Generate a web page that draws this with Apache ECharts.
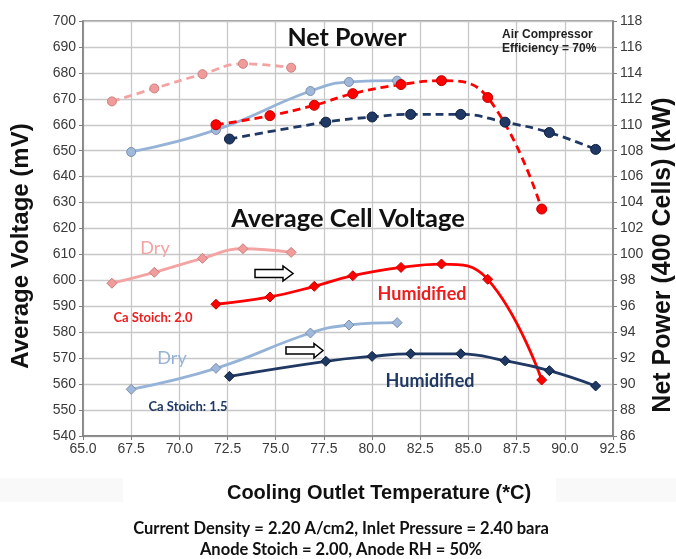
<!DOCTYPE html>
<html>
<head>
<meta charset="utf-8">
<script src="https://cdn.jsdelivr.net/npm/echarts@6/dist/echarts.min.js"></script>
<style>html,body{margin:0;padding:0;background:#fff;}#c{width:676px;height:559px;}</style>
</head>
<body>
<div id="c"></div>
<script>
// Temperatures (°C)
const xDry20 = [66.5, 68.7, 71.2, 73.3, 75.8];
const xHum20 = [71.9, 74.7, 77.0, 79.0, 81.5, 83.6, 86.0, 88.8];
const xDry15 = [67.5, 71.9, 76.8, 78.8, 81.3];
const xHum15 = [72.6, 77.6, 80.0, 82.0, 84.6, 86.9, 89.2, 91.6];
// Net power (kW, right axis)
const powerDry20 = [111.8, 112.8, 113.9, 114.7, 114.4];
const powerHum20 = [110.0, 110.7, 111.5, 112.4, 113.1, 113.4, 112.1, 103.5];
const powerDry15 = [107.9, 109.6, 112.6, 113.3, 113.4];
const powerHum15 = [108.9, 110.2, 110.6, 110.8, 110.8, 110.2, 109.4, 108.1];
// Average cell voltage (mV, left axis)
const voltDry20 = [598.9, 603.1, 608.5, 612.2, 610.8];
const voltHum20 = [590.8, 593.6, 597.7, 601.8, 605.0, 606.3, 600.4, 561.6];
const voltDry15 = [558.0, 566.1, 579.7, 582.8, 583.7];
const voltHum15 = [563.0, 568.8, 570.7, 571.7, 571.7, 569.0, 565.2, 559.3];

const zip = (xs, ys) => xs.map((x, i) => [x, ys[i]]);

const C = {
  pink: '#f4a3a3', pinkMark: '#f19b9b', pinkBorder: '#c98080',
  red: '#ff0000', redBorder: '#c00000',
  lblue: '#95b3d7', lblueMark: '#9fb9dc', lblueBorder: '#7f8fa8',
  navy: '#1f3864', navyBorder: '#0f1f40'
};

function series(name, xs, ys, axis, color, dashed, symbol, mfill, mborder, size) {
  return {
    name, type: 'line', yAxisIndex: axis, data: zip(xs, ys),
    smooth: 0.45, symbol, symbolSize: size,
    lineStyle: { color, width: 2.8, type: dashed ? [8, 5] : 'solid' },
    itemStyle: { color: mfill, borderColor: mborder, borderWidth: 1 },
    emphasis: { disabled: true }, z: 3
  };
}

const chart = echarts.init(document.getElementById('c'), null, { renderer: 'canvas' });
const axisLabel = { color: '#3a3a3a', fontFamily: 'Liberation Sans, Arial', fontSize: 14 };

const txt = (text, x, y, font, fill, align) => ({
  type: 'text', z: 10,
  style: { text, x, y, font, fill, textAlign: align || 'center', textVerticalAlign: 'middle' }
});
const rtxt = (text, x, y, font, fill) => ({
  type: 'text', z: 10, x, y, rotation: Math.PI / 2,
  style: { text, x: 0, y: 0, font, fill, textAlign: 'center', textVerticalAlign: 'middle' }
});

chart.setOption({
  animation: false,
  backgroundColor: '#ffffff',
  grid: { left: 83, right: 63, top: 21, bottom: 123, show: true, borderColor: '#7f7f7f', borderWidth: 1.5 },
  xAxis: {
    type: 'value', min: 65, max: 92.5, interval: 2.5,
    axisLine: { show: true, lineStyle: { color: '#7f7f7f', width: 1.5 } },
    axisTick: { show: true, length: 4, lineStyle: { color: '#7f7f7f' } },
    axisLabel: Object.assign({ formatter: v => v.toFixed(1), margin: 6 }, axisLabel),
    splitLine: { show: true, lineStyle: { color: '#c8c8c8', width: 1.3 } }
  },
  yAxis: [
    {
      type: 'value', min: 540, max: 700, interval: 10, position: 'left',
      axisLine: { show: true, lineStyle: { color: '#7f7f7f', width: 1.5 } },
      axisTick: { show: true, length: 4, lineStyle: { color: '#7f7f7f' } },
      axisLabel: Object.assign({ margin: 7 }, axisLabel),
      splitLine: { show: true, lineStyle: { color: '#c8c8c8', width: 1.3 } }
    },
    {
      type: 'value', min: 86, max: 118, interval: 2, position: 'right',
      axisLine: { show: true, lineStyle: { color: '#7f7f7f', width: 1.5 } },
      axisTick: { show: true, length: 4, lineStyle: { color: '#7f7f7f' } },
      axisLabel: Object.assign({ margin: 7 }, axisLabel),
      splitLine: { show: false }
    }
  ],
  series: [
    series('Dry 2.0 power', xDry20, powerDry20, 1, C.pink, true, 'circle', C.pinkMark, C.pinkBorder, 9),
    series('Dry 1.5 power', xDry15, powerDry15, 1, C.lblue, false, 'circle', C.lblueMark, C.lblueBorder, 9),
    series('Hum 2.0 power', xHum20, powerHum20, 1, C.red, true, 'circle', C.red, C.redBorder, 10),
    series('Hum 1.5 power', xHum15, powerHum15, 1, C.navy, true, 'circle', C.navy, C.navyBorder, 10),
    series('Dry 2.0 volt', xDry20, voltDry20, 0, C.pink, false, 'diamond', C.pinkMark, C.pinkBorder, 10),
    series('Dry 1.5 volt', xDry15, voltDry15, 0, C.lblue, false, 'diamond', C.lblueMark, C.lblueBorder, 10),
    series('Hum 2.0 volt', xHum20, voltHum20, 0, C.red, false, 'diamond', C.red, C.redBorder, 10),
    series('Hum 1.5 volt', xHum15, voltHum15, 0, C.navy, false, 'diamond', C.navy, C.navyBorder, 10)
  ],
  graphic: [
    { type: 'rect', z: 0, shape: { x: 0, y: 478, width: 676, height: 24 }, style: { fill: '#f9f9f9' } },
    { type: 'rect', z: 1, shape: { x: 123, y: 478, width: 433, height: 24 }, style: { fill: '#ffffff' } },
    txt('Net Power', 347, 38, 'bold 25px Lato', '#111111'),
    txt('Average Cell Voltage', 348, 219, 'bold 25.5px Lato', '#111111'),
    txt('Air Compressor', 502, 35, 'bold 12px Liberation Sans', '#222222', 'left'),
    txt('Efficiency = 70%', 502, 48.5, 'bold 12px Liberation Sans', '#222222', 'left'),
    txt('Dry', 155, 248, '18px Lato', C.pink),
    txt('Dry', 172, 358, '18px Lato', C.lblue),
    txt('Ca Stoich: 2.0', 153, 318, 'bold 13px Lato', '#ee1c1c'),
    txt('Ca Stoich: 1.5', 188, 407, 'bold 13px Lato', '#1f3864'),
    txt('Humidified', 422, 294, 'bold 18px Lato', '#ee1c1c'),
    txt('Humidified', 430, 381, 'bold 18px Lato', '#1f3864'),
    {
      type: 'polygon', z: 10,
      shape: { points: [[255, 269.5], [283, 269.5], [283, 266], [293, 273.5], [283, 281], [283, 277.5], [255, 277.5]] },
      style: { fill: '#ffffff', stroke: '#000000', lineWidth: 1.5 }
    },
    {
      type: 'polygon', z: 10,
      shape: { points: [[286, 347], [314, 347], [314, 343.5], [323, 350.5], [314, 358], [314, 354], [286, 354]] },
      style: { fill: '#ffffff', stroke: '#000000', lineWidth: 1.5 }
    },
    rtxt('Average Voltage (mV)', 21, 246, 'bold 24px Liberation Sans', '#111111'),
    rtxt('Net Power (400 Cells) (kW)', 663, 255, 'bold 25px Liberation Sans', '#111111'),
    txt('Cooling Outlet Temperature (*C)', 379, 493, 'bold 20px Liberation Sans', '#111111'),
    txt('Current Density = 2.20 A/cm2, Inlet Pressure = 2.40 bara', 341, 529, 'bold 16.5px Lato', '#111111'),
    txt('Anode Stoich = 2.00, Anode RH = 50%', 341, 550, 'bold 16.5px Lato', '#111111')
  ]
});
</script>
</body>
</html>
